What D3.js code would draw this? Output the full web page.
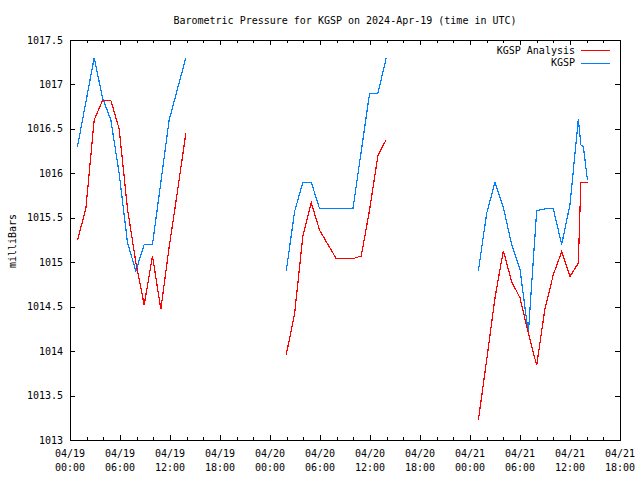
<!DOCTYPE html>
<html><head><meta charset="utf-8">
<script src="https://cdn.jsdelivr.net/npm/d3@7"></script>
<style>
body{margin:0;background:#fff;}
svg{display:block;}
text{font-family:"DejaVu Sans Mono",monospace;font-size:10px;fill:#000;}
</style></head><body>
<svg id="chart" width="640" height="480"></svg>
<script>
// Hours since 2024-04-19 00:00 UTC
const seg1Times = [0.9,1.9,2.9,3.9,4.9,5.9,6.9,7.9,8.9,9.9,10.9,11.9,12.9,13.9];
const seg1Obs   = [1016.3,1016.8,1017.3,1016.85,1016.6,1016.0,1015.22,1014.9,1015.2,1015.2,1015.9,1016.6,1016.95,1017.3];
const seg1Ana   = [1015.25,1015.6,1016.6,1016.82,1016.82,1016.5,1015.6,1015.0,1014.52,1015.07,1014.47,1015.17,1015.8,1016.45];

const seg2Times = [25.95,26.95,27.95,28.95,29.95,30.95,31.95,32.95,33.95,34.95,35.95,36.95,37.95];
const seg2Obs   = [1014.9,1015.57,1015.9,1015.9,1015.6,1015.6,1015.6,1015.6,1015.6,1016.25,1016.9,1016.9,1017.3];
const seg2Ana   = [1013.96,1014.42,1015.3,1015.67,1015.36,1015.2,1015.04,1015.04,1015.04,1015.07,1015.59,1016.2,1016.38];

const seg3Times = [49,50,51,52,53,54,55,56,57,58,59,60,61,61.3,61.6,62.1];
const seg3Obs   = [1014.9,1015.55,1015.9,1015.62,1015.2,1014.92,1014.2,1015.58,1015.6,1015.6,1015.2,1015.65,1016.61,1016.32,1016.3,1015.92];
const seg3Ana   = [1013.22,1013.9,1014.6,1015.13,1014.78,1014.6,1014.2,1013.84,1014.48,1014.86,1015.12,1014.84,1014.99,1015.9,1015.9,1015.9];

const xTickHours  = [0,6,12,18,24,30,36,42,48,54,60,66];
const xTickLabel1 = ["04/19","04/19","04/19","04/19","04/20","04/20","04/20","04/20","04/21","04/21","04/21","04/21"];
const xTickLabel2 = ["00:00","06:00","12:00","18:00","00:00","06:00","12:00","18:00","00:00","06:00","12:00","18:00"];
const yTicks = [1013,1013.5,1014,1014.5,1015,1015.5,1016,1016.5,1017,1017.5];

const seriesNames = ["KGSP Analysis","KGSP"];
const seriesColors = ["#ff0000","#0080ff"];

const L=70, R=620, T=40, B=440;
const svg = d3.select("#chart");
const x = d3.scaleLinear().domain([0,66]).range([L,R]);
const y = d3.scaleLinear().domain([1013,1017.5]).range([B,T]);

// ticks (inward, on all four sides)
const g = svg.append("g");
const minorHours = d3.range(0,67,2).filter(h=>h%6!==0);
function tick(x1,y1,x2,y2){ g.append("line").attr("x1",x1).attr("y1",y1).attr("x2",x2).attr("y2",y2).attr("stroke","#000").attr("stroke-width",1).attr("shape-rendering","crispEdges"); }
xTickHours.forEach(h=>{ const px=Math.round(x(h))+0.5; tick(px,B,px,B-5); tick(px,T,px,T+5); });
minorHours.forEach(h=>{ const px=Math.round(x(h))+0.5; tick(px,B,px,B-3); tick(px,T,px,T+3); });
yTicks.forEach(v=>{ const py=Math.round(y(v))+0.5; tick(L,py,L+5,py); tick(R,py,R-5,py); });

// y labels
yTicks.forEach(v=>{
  svg.append("text").attr("x",63).attr("y",y(v)).attr("dy","0.35em").attr("text-anchor","end").text(String(v));
});
// x labels
xTickHours.forEach((h,i)=>{
  svg.append("text").attr("x",x(h)).attr("y",457).attr("text-anchor","middle").text(xTickLabel1[i]);
  svg.append("text").attr("x",x(h)).attr("y",471).attr("text-anchor","middle").text(xTickLabel2[i]);
});

// frame
svg.append("rect").attr("x",L+0.5).attr("y",T+0.5).attr("width",R-L).attr("height",B-T)
  .attr("fill","none").attr("stroke","#000").attr("stroke-width",1).attr("shape-rendering","crispEdges");

// lines
const line = d3.line().x(d=>x(d[0])).y(d=>y(d[1]));
const segs = [[seg1Times,seg1Ana,seg1Obs],[seg2Times,seg2Ana,seg2Obs],[seg3Times,seg3Ana,seg3Obs]];
segs.forEach(([t,a,o])=>{
  svg.append("path").datum(t.map((h,i)=>[h,o[i]])).attr("d",line).attr("fill","none").attr("stroke",seriesColors[1]).attr("stroke-width",1.2).attr("shape-rendering","crispEdges");
  svg.append("path").datum(t.map((h,i)=>[h,a[i]])).attr("d",line).attr("fill","none").attr("stroke",seriesColors[0]).attr("stroke-width",1.2).attr("shape-rendering","crispEdges");
});

// legend
seriesNames.forEach((n,i)=>{
  const ly = 50 + i*12.5;
  svg.append("text").attr("x",575).attr("y",ly).attr("dy","0.35em").attr("text-anchor","end").text(n);
  svg.append("line").attr("x1",581).attr("x2",610).attr("y1",Math.round(ly)+0.5).attr("y2",Math.round(ly)+0.5)
    .attr("stroke",seriesColors[i]).attr("stroke-width",1).attr("shape-rendering","crispEdges");
});

// title
svg.append("text").attr("x",345).attr("y",20).attr("dy","0.35em").attr("text-anchor","middle")
  .text("Barometric Pressure for KGSP on 2024-Apr-19 (time in UTC)");
// y axis title
svg.append("text").attr("transform","translate(12,241) rotate(-90)").attr("dy","0.35em").attr("text-anchor","middle").text("milliBars");
</script>
</body></html>
